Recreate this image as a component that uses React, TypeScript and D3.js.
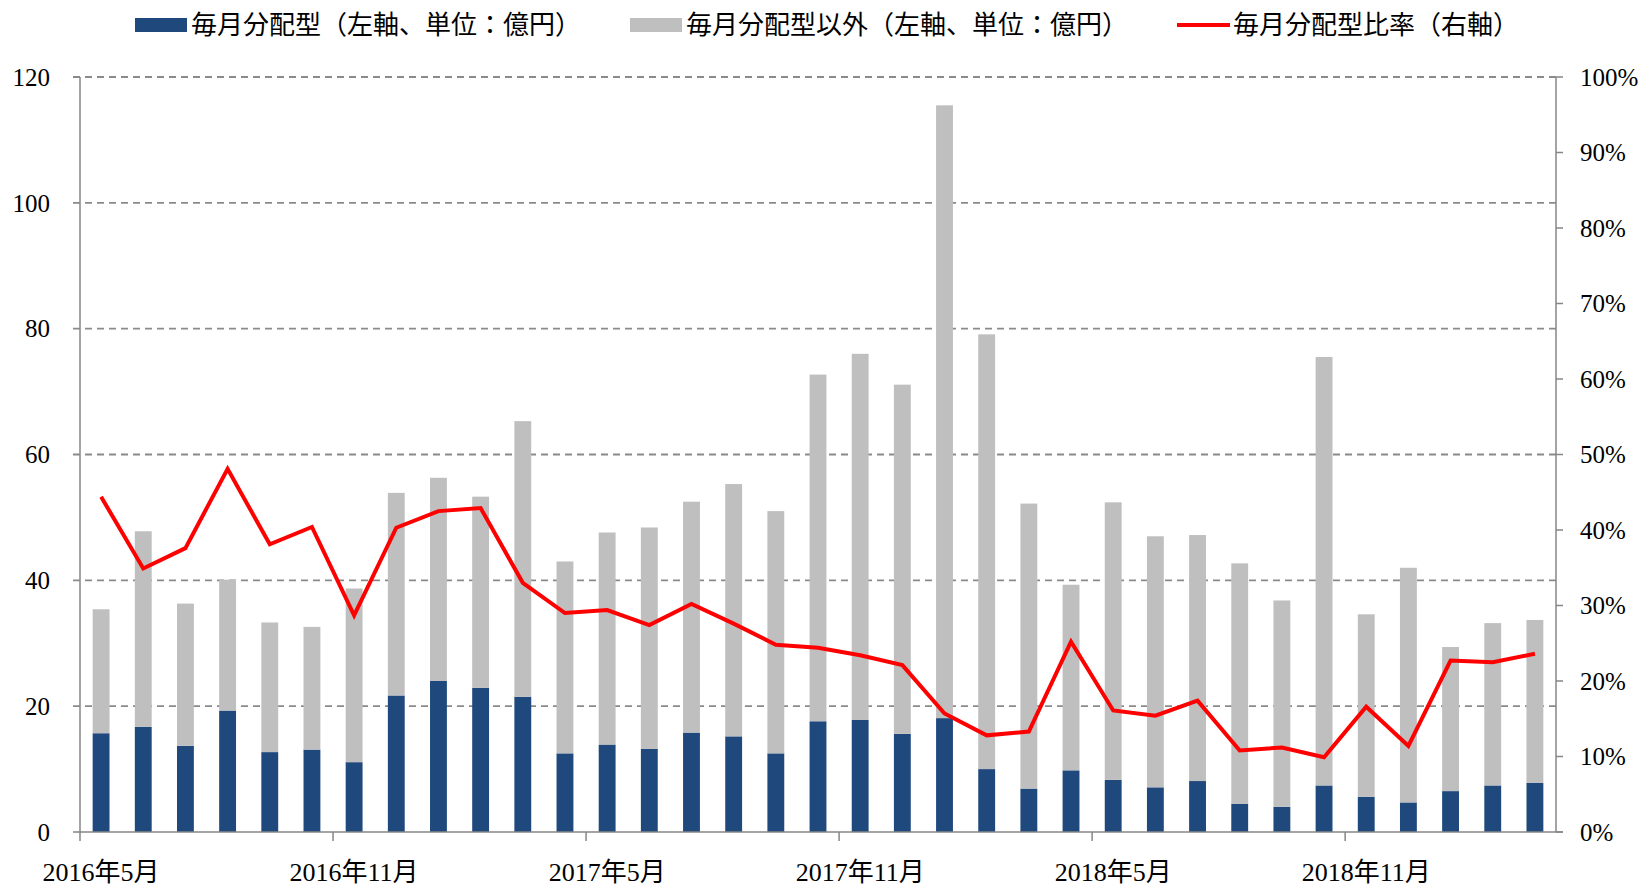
import * as d3 from 'd3';

const months = [
  '2016年5月', '2016年6月', '2016年7月', '2016年8月', '2016年9月', '2016年10月', '2016年11月', '2016年12月',
  '2017年1月', '2017年2月', '2017年3月', '2017年4月', '2017年5月', '2017年6月', '2017年7月', '2017年8月',
  '2017年9月', '2017年10月', '2017年11月', '2017年12月', '2018年1月', '2018年2月', '2018年3月', '2018年4月',
  '2018年5月', '2018年6月', '2018年7月', '2018年8月', '2018年9月', '2018年10月', '2018年11月', '2018年12月',
  '2019年1月', '2019年2月', '2019年3月',
];
// 毎月分配型 (億円)
const monthlyDist = [
  15.7, 16.7, 13.7, 19.3, 12.7, 13.1, 11.1, 21.7, 24.0, 22.9, 21.5, 12.5, 13.9, 13.2, 15.8, 15.2, 12.5, 17.6,
  17.8, 15.6, 18.1, 10.0, 6.9, 9.8, 8.3, 7.1, 8.1, 4.5, 4.0, 7.4, 5.6, 4.7, 6.5, 7.4, 7.8,
];
// 毎月分配型以外 (億円)
const otherDist = [
  19.7, 31.1, 22.6, 20.8, 20.6, 19.5, 27.6, 32.2, 32.3, 30.4, 43.8, 30.5, 33.7, 35.2, 36.7, 40.1, 38.5, 55.1,
  58.2, 55.5, 97.4, 69.1, 45.3, 29.5, 44.1, 39.9, 39.1, 38.2, 32.8, 68.1, 29.0, 37.3, 22.9, 25.8, 25.9,
];
// 毎月分配型比率 (%)
const ratio = [
  44.4, 34.9, 37.6, 48.1, 38.1, 40.4, 28.7, 40.3, 42.5, 42.9, 33.0, 29.0, 29.4, 27.4, 30.2, 27.6, 24.8, 24.4,
  23.4, 22.1, 15.7, 12.8, 13.3, 25.2, 16.1, 15.4, 17.4, 10.8, 11.2, 9.9, 16.6, 11.4, 22.7, 22.5, 23.6,
];
const leftTicks = [0, 20, 40, 60, 80, 100, 120];
const rightTicks = [0, 10, 20, 30, 40, 50, 60, 70, 80, 90, 100];
const legendLabels = ['毎月分配型（左軸、単位：億円）', '毎月分配型以外（左軸、単位：億円）', '毎月分配型比率（右軸）'];

const W = 1651, H = 893;
const m = { left: 80, right: 1556, top: 77, bottom: 832 };
const BLUE = '#1f497d', GRAY = '#bfbfbf', RED = '#ff0000', AXIS = '#868686';
const numFont = "'Liberation Serif', 'Noto Sans CJK JP', serif";
const cjkFont = "'Noto Sans CJK JP', sans-serif";

export default function App() {
  const x = d3.scaleBand<string>().domain(months).range([m.left, m.right]).paddingInner(0.6).paddingOuter(0.3);
  const band = (m.right - m.left) / months.length;
  const y = d3.scaleLinear().domain([0, 120]).range([m.bottom, m.top]);
  const y2 = d3.scaleLinear().domain([0, 100]).range([m.bottom, m.top]);

  const rows = months.map((k, i) => ({ month: k, a: monthlyDist[i], b: otherDist[i] }));
  const stacked = d3.stack<any>().keys(['a', 'b'])(rows);
  const colors = [BLUE, GRAY];

  const line = d3
    .line<number>()
    .x((_, i) => (x(months[i]) as number) + x.bandwidth() / 2)
    .y((d) => y2(d));

  // x-axis ticks / labels every 6 months
  const tickIdx = months.map((_, i) => i).filter((i) => i % 6 === 0);

  return (
    <svg width={W} height={H} style={{ position: 'absolute', left: 0, top: 0, background: '#fff' }}>
      {leftTicks.filter((t) => t > 0).map((t) => (
        <line key={'g' + t} x1={m.left - 7} x2={m.right} y1={y(t)} y2={y(t)} stroke="#8a8a8a" strokeWidth={1.8} strokeDasharray="7,5" />
      ))}

      {stacked.map((s, si) =>
        s.map((d, i) => (
          <rect
            key={si + '-' + i}
            x={x(months[i])}
            y={y(d[1])}
            width={x.bandwidth()}
            height={y(d[0]) - y(d[1])}
            fill={colors[si]}
          />
        ))
      )}

      <line x1={m.left} x2={m.left} y1={m.top} y2={m.bottom} stroke={AXIS} strokeWidth={1.5} />
      <line x1={m.right} x2={m.right} y1={m.top} y2={m.bottom} stroke={AXIS} strokeWidth={1.5} />
      <line x1={m.left - 7} x2={m.right + 7} y1={m.bottom} y2={m.bottom} stroke={AXIS} strokeWidth={1.5} />
      {rightTicks.map((t) => (
        <line key={'rt' + t} x1={m.right} x2={m.right + 7} y1={y2(t)} y2={y2(t)} stroke={AXIS} strokeWidth={1.5} />
      ))}
      {tickIdx.map((i) => (
        <line key={'bt' + i} x1={m.left + i * band} x2={m.left + i * band} y1={m.bottom} y2={m.bottom + 9} stroke={AXIS} strokeWidth={1.5} />
      ))}

      <path d={line(ratio) || ''} fill="none" stroke={RED} strokeWidth={4} strokeLinejoin="miter" />

      {leftTicks.map((t) => (
        <text key={'lt' + t} x={50} y={y(t)} dy="0.35em" textAnchor="end" fontFamily={numFont} fontSize={25} fill="#000">
          {t}
        </text>
      ))}
      {rightTicks.map((t) => (
        <text key={'rl' + t} x={1580} y={y2(t)} dy="0.35em" textAnchor="start" fontFamily={numFont} fontSize={25} fill="#000">
          {t + '%'}
        </text>
      ))}
      {tickIdx.map((i) => (
        <text
          key={'xl' + i}
          x={(x(months[i]) as number) + x.bandwidth() / 2}
          y={872}
          dy="0.35em"
          textAnchor="middle"
          fontFamily={numFont}
          fontSize={26}
          fill="#000"
        >
          {months[i]}
        </text>
      ))}

      <rect x={135} y={18} width={52} height={14} fill={BLUE} />
      <text x={191} y={25} dy="0.35em" fontFamily={cjkFont} fontSize={26} fill="#000">{legendLabels[0]}</text>
      <rect x={630} y={18} width={52} height={14} fill={GRAY} />
      <text x={686} y={25} dy="0.35em" fontFamily={cjkFont} fontSize={26} fill="#000">{legendLabels[1]}</text>
      <line x1={1177} x2={1230} y1={25} y2={25} stroke={RED} strokeWidth={4} />
      <text x={1233} y={25} dy="0.35em" fontFamily={cjkFont} fontSize={26} fill="#000">{legendLabels[2]}</text>
    </svg>
  );
}
